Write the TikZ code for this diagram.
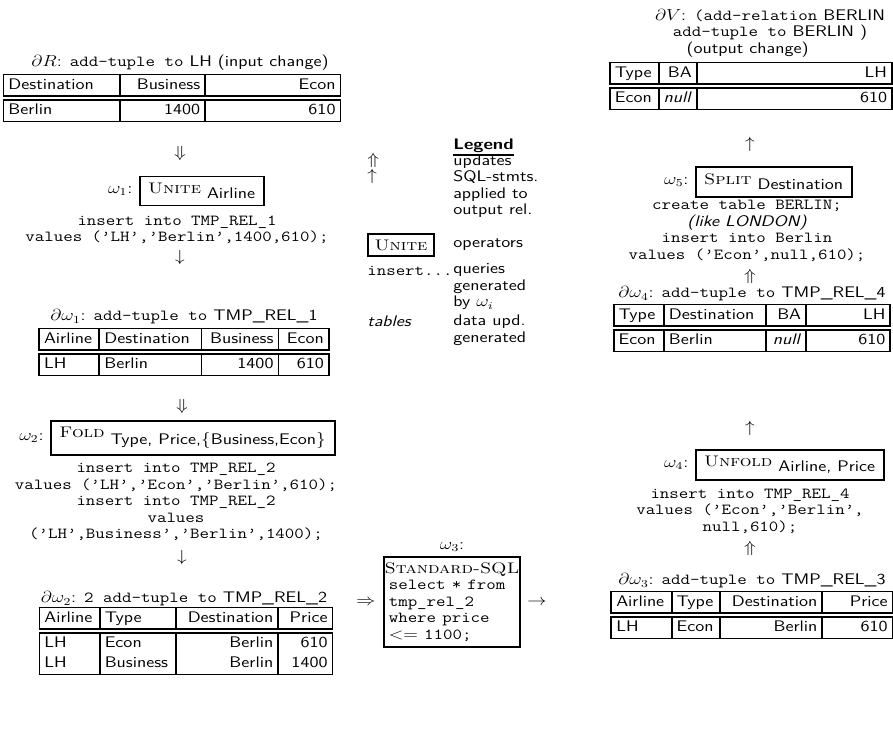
\documentclass[tikz,border=0pt]{standalone}
\usepackage{array}
\usepackage{tikz}
\usetikzlibrary{positioning}
\tikzset{>=latex}

\newcolumntype{L}[1]{>{\raggedright\arraybackslash}p{#1}}
\newcolumntype{R}[1]{>{\raggedleft\arraybackslash}p{#1}}
\newcommand{\figsize}{\fontsize{11.5}{12.4}\selectfont}
\newcommand{\oper}[2]{{\rmfamily\textsc{#1}} $_{\mbox{\sffamily #2}}$}
\setlength{\tabcolsep}{2.5pt}
\setlength{\arrayrulewidth}{1.2pt}
\setlength{\doublerulesep}{2pt}
\renewcommand{\arraystretch}{1.2}

\tikzset{
  txt/.style={inner sep=0pt, font=\sffamily\figsize},
  sql/.style={txt, font=\ttfamily\figsize, align=center},
  sym/.style={txt},
  rel/.style={txt},
  opbox/.style={txt, draw, line width=1.4pt, inner xsep=5pt, inner ysep=5pt}
}

\begin{document}
\begin{tikzpicture}[x=0.625pt, y=-0.75pt, xscale=1.2,
    every node/.append style={transform shape}]
\useasboundingbox (0,0) rectangle (893,734);

% left column: input change down to omega_2
\node[txt] (dR) at (180,63) {$\partial R$: \texttt{add-tuple to} LH (input change)};
\node[rel] (tabR) at (172,98) {\begin{tabular}{|L{66.5pt}|R{47.1pt}|R{78.4pt}|}
  \hline Destination & Business & Econ\\ \hline\hline
  Berlin & 1400 & 610\\ \hline\end{tabular}};
\node[sym] (a1) at (180,154) {$\Downarrow$};
\node[opbox] (unite) at (202,191) {\oper{Unite}{Airline}};
\node[txt, left=4pt of unite] (w1) {$\omega_1$:};
\node[sql] (q1) at (177,230) {insert into TMP\_REL\_1\\values (’LH’,’Berlin’,1400,610);};
\node[sym] (a2) at (180,258) {$\downarrow$};

\node[txt] (dw1) at (184,317) {$\partial\omega_1$: \texttt{add-tuple to} TMP\_REL\_1};
\node[rel] (tab1) at (184,352) {\begin{tabular}{|L{31.5pt}|L{57.6pt}|R{41.9pt}|R{25.3pt}|}
  \hline Airline & Destination & Business & Econ\\ \hline\hline
  LH & Berlin & 1400 & 610\\ \hline\end{tabular}};
\node[sym] (a3) at (182,407) {$\Downarrow$};
\node[opbox] (fold) at (193,438) {\oper{Fold}{Type, Price,$\{$Business,Econ$\}$}};
\node[txt, left=4pt of fold] (w2) {$\omega_2$:};
\node[sql] (q2) at (176,502) {insert into TMP\_REL\_2\\values (’LH’,’Econ’,’Berlin’,610);\\
  insert into TMP\_REL\_2\\values\\(’LH’,Business’,’Berlin’,1400);};
\node[sym] (a4) at (182,557) {$\downarrow$};

\node[txt] (dw2) at (184,599) {$\partial\omega_2$: \texttt{2 add-tuple to} TMP\_REL\_2};
\node[rel] (tab2) at (186,641) {\begin{tabular}{|L{31.5pt}|L{41.5pt}|R{57.6pt}|R{27.75pt}|}
  \hline Airline & Type & Destination & Price\\ \hline\hline
  LH & Econ & Berlin & 610\\
  LH & Business & Berlin & 1400\\ \hline\end{tabular}};

% middle: omega_3
\node[sym] (a5) at (366,603) {$\Rightarrow$};
\node[txt, draw, line width=1.4pt, inner xsep=3pt, inner ysep=4pt, text width=79pt, align=left] (std) at (452,602)
  {\makebox[\linewidth]{\rmfamily\textsc{Standard-SQL}}\\ \texttt{select * from}\\ \texttt{tmp\_rel\_2}\\
   \texttt{where price}\\ $<=$\texttt{ 1100;}};
\node[txt, above=3pt of std] (w3) {$\omega_3$:};
\node[sym] (a6) at (537,603) {$\rightarrow$};

% legend
\node[txt, font=\sffamily\bfseries\figsize, anchor=west] (leg) at (453,146) {Legend};
\draw[line width=1.2pt] ([yshift=-1.5pt]leg.south west) -- ([yshift=-1.5pt]leg.south east);
\node[sym, anchor=west] (lu) at (367,161) {$\Uparrow$};
\node[sym, anchor=west] (ls) at (367,177) {$\uparrow$};
\node[txt, anchor=west, align=left] (ld1) at (453,186) {updates\\SQL-stmts.\\applied to\\output rel.};
\node[opbox, inner xsep=4pt, inner ysep=4pt] (lop) at (401,245) {\rmfamily\textsc{Unite}};
\node[txt, anchor=west] (ld2) at (453,245) {operators};
\node[sql, anchor=west] (lq) at (367,271) {insert...};
\node[txt, anchor=west, align=left] (ld3) at (453,287) {queries\\generated\\by $\omega_i$};
\node[txt, font=\sffamily\itshape\figsize, anchor=west] (lt) at (367,321) {tables};
\node[txt, anchor=west, align=left] (ld4) at (453,330) {data upd.\\generated};

% right column: omega_3 result up to output change
\node[txt, align=center] (dV) at (770,33) {$\partial V$: \texttt{(add-relation} BERLIN\\
  \texttt{add-tuple to} BERLIN )\\(output change)\hspace*{28pt}\mbox{}};
\node[rel] (tabV) at (751,86) {\begin{tabular}{|L{24.2pt}|R{17.6pt}|R{115.9pt}|}
  \hline Type & BA & LH\\ \hline\hline
  Econ & \textit{null} & 610\\ \hline\end{tabular}};
\node[sym] (a7) at (750,145) {$\uparrow$};
\node[opbox] (split) at (774,182) {\oper{Split}{Destination}};
\node[txt, left=4pt of split] (w5) {$\omega_5$:};
\node[sql] (q5) at (747,231) {create table BERLIN;\\{\sffamily\itshape (like LONDON)}\\
  insert into Berlin\\values (’Econ’,null,610);};
\node[sym] (a8) at (750,277) {$\Uparrow$};

\node[txt] (dw4) at (752,294) {$\partial\omega_4$: \texttt{add-tuple to} TMP\_REL\_4};
\node[rel] (tab4) at (752,328) {\begin{tabular}{|L{25.3pt}|L{57.6pt}|R{18.8pt}|R{46.5pt}|}
  \hline Type & Destination & BA & LH\\ \hline\hline
  Econ & Berlin & \textit{null} & 610\\ \hline\end{tabular}};
\node[sym] (a9) at (750,428) {$\uparrow$};
\node[opbox] (unfold) at (790,465) {\oper{Unfold}{Airline, Price}};
\node[txt, left=4pt of unfold] (w4) {$\omega_4$:};
\node[sql] (q4) at (750,511) {insert into TMP\_REL\_4\\values (’Econ’,’Berlin’,\\null,610);};
\node[sym] (a10) at (750,548) {$\Uparrow$};

\node[txt] (dw3) at (752,581) {$\partial\omega_3$: \texttt{add-tuple to} TMP\_REL\_3};
\node[rel] (tab3) at (752,615) {\begin{tabular}{|L{31.5pt}|L{24.2pt}|R{57.6pt}|R{37.75pt}|}
  \hline Airline & Type & Destination & Price\\ \hline\hline
  LH & Econ & Berlin & 610\\ \hline\end{tabular}};
\end{tikzpicture}
\end{document}
